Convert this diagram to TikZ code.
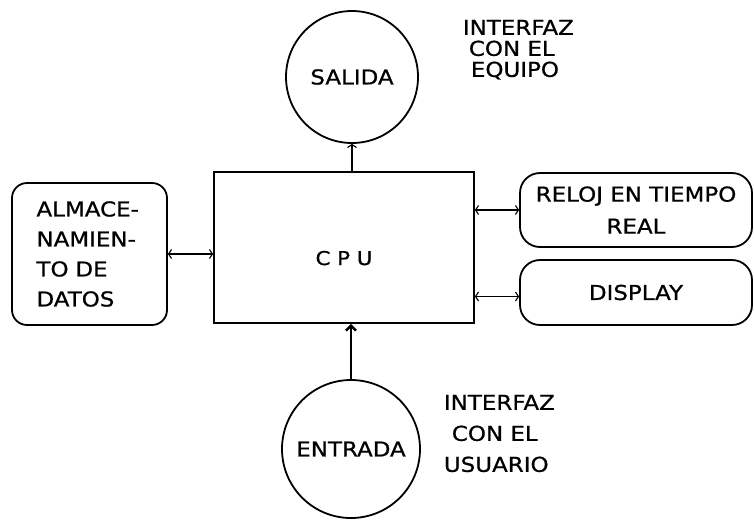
\documentclass[tikz,border=0pt]{standalone}
\usepackage{fontspec}
\setmainfont{DejaVu Sans}[FakeStretch=1.12, FakeBold=0.8]
\usetikzlibrary{arrows.meta, positioning}
\tikzset{
  every picture/.style={font=\fontsize{20.5}{23}\selectfont, line width=1.8pt},
  unit/.style={draw, circle, inner sep=0pt, minimum size=#1},
  unit/.default=132pt,
  block/.style={draw, rounded corners=#1, align=center, inner sep=0pt},
  block/.default=16pt,
  link/.style={{Straight Barb[length=3pt,width=9pt]}-{Straight Barb[length=3pt,width=9pt]}, line width=1.1pt},
  note/.style={align=left, anchor=north west, inner sep=0pt},
}
\begin{document}
\begin{tikzpicture}[x=1pt, y=-1pt]
  \useasboundingbox (0,0) rectangle (754,520);
  \node[draw, minimum width=260pt, minimum height=151pt, inner sep=0pt, text height=35pt, text depth=0pt, font=\fontsize{19}{22}\selectfont] (cpu) at (344,247.5) {C P U};
  \node[unit] (sal) at (352,77) {SALIDA};
  \node[unit=138pt] (ent) at (351,449) {ENTRADA};
  \node[block=15pt, minimum width=155pt, minimum height=142pt, text width=106pt, align=left, font=\fontsize{20.5}{30}\selectfont] (alm) at (89.5,254) {ALMACE-\\NAMIEN-\\TO DE\\DATOS};
  \node[block=20pt, minimum width=232pt, minimum height=74pt, font=\fontsize{20.5}{32}\selectfont] (rel) at (636,210) {RELOJ EN TIEMPO\\REAL};
  \node[block=20pt, minimum width=232pt, minimum height=65pt] (dis) at (636,292.5) {DISPLAY};
  \node[note, font=\fontsize{20.5}{21}\selectfont] (eq) at (462,19) {INTERFAZ\\\hspace{6pt}CON EL\\\hspace{8pt}EQUIPO};
  \node[note, font=\fontsize{20.5}{31}\selectfont] (us) at (443,394) {INTERFAZ\\\hspace{8pt}CON EL\\USUARIO};
  % connectors
  \draw[link] (alm.east) -- (alm.east -| cpu.west);
  \draw[link] (rel.west -| cpu.east) -- (rel.west);
  \draw[link] ([yshift=-4pt]dis.west -| cpu.east) -- ([yshift=-4pt]dis.west);
  \draw[-{Straight Barb[length=3pt,width=9pt]}, line width=1.1pt] (sal |- cpu.north) -- (sal.south);
  \draw[-{Straight Barb[length=5pt,width=10pt]}, line width=2.4pt] (ent.north) -- (ent |- cpu.south);
\end{tikzpicture}
\end{document}
